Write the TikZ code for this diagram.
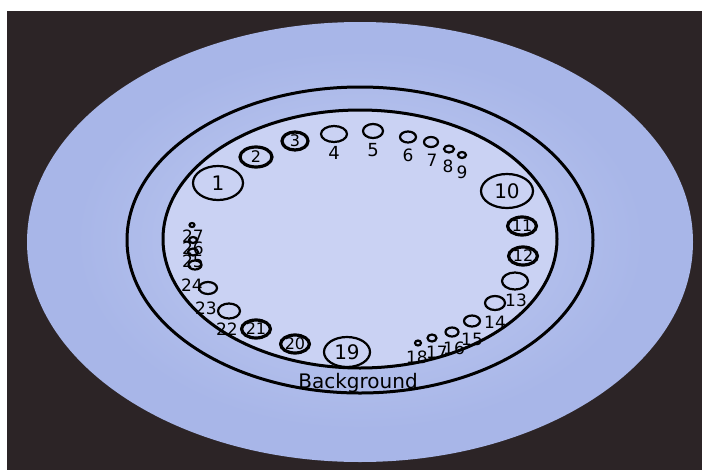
\documentclass[tikz,border=0pt]{standalone}
\usepackage{fontspec}
\setmainfont{DejaVu Sans}
\usetikzlibrary{shapes.geometric}
\definecolor{bgdark}{RGB}{44,36,38}
\definecolor{plate}{RGB}{168,182,232}
\definecolor{platelight}{RGB}{196,206,242}
\definecolor{platecenter}{RGB}{202,210,243}
\begin{document}
\begin{tikzpicture}[x=1pt,y=-1pt,
  well/.style={draw=black, ellipse, line width=2.2pt, inner sep=0pt},
  wellthick/.style={well, line width=3.2pt},
  ring/.style={draw=black, line width=3pt},
  bignum/.style={font=\fontsize{20}{20}\selectfont},
  midnum/.style={font=\fontsize{16}{16}\selectfont},
  lbl/.style={inner sep=0pt, font=\fontsize{17}{17}\selectfont},
  lblbig/.style={inner sep=0pt, font=\fontsize{18}{18}\selectfont}]
\useasboundingbox (0,0) rectangle (702,472);
\fill[white] (0,0) rectangle (702,472);
\fill[bgdark] (7,11) rectangle (702,470);
% plate
\fill[plate] (360,242) ellipse [x radius=333pt, y radius=220pt];
\shade[inner color=platelight, outer color=plate] (360,240) ellipse [x radius=285pt, y radius=190pt];
\fill[platecenter] (360,239) ellipse [x radius=197pt, y radius=129pt];
% rings
\draw[ring] (360,240) ellipse [x radius=233pt, y radius=153pt];
\draw[ring] (360,239) ellipse [x radius=197pt, y radius=129pt];
\node[inner sep=0pt, font=\fontsize{20}{20}\selectfont] (bg) at (358,383) {Background};
% wells with numbers inside
\node[well, minimum width=50pt, minimum height=34pt, bignum] (c1) at (218,183) {1};
\node[wellthick, minimum width=32pt, minimum height=20pt, midnum] (c2) at (256,157) {2};
\node[wellthick, minimum width=26pt, minimum height=18pt, midnum] (c3) at (295,141) {3};
\node[well, minimum width=52pt, minimum height=34pt, bignum] (c10) at (507,191) {10};
\node[wellthick, minimum width=25pt, minimum height=18pt, midnum] (c11) at (522,226) {11};
\node[wellthick, minimum width=25pt, minimum height=18pt, midnum] (c12) at (523,256) {12};
\node[well, minimum width=46pt, minimum height=30pt, bignum] (c19) at (347,352) {19};
\node[wellthick, minimum width=26pt, minimum height=18pt, midnum] (c20) at (295,344) {20};
\node[wellthick, minimum width=26pt, minimum height=18pt, midnum] (c21) at (256,329) {21};
% small wells with labels outside
\node[well, minimum width=26pt, minimum height=16pt] (c4) at (334,134) {};
\node[lblbig] (t4) at (334,153) {4};
\node[well, minimum width=20pt, minimum height=14pt] (c5) at (373,131) {};
\node[lblbig] (t5) at (373,150) {5};
\node[well, minimum width=16pt, minimum height=11pt] (c6) at (408,137) {};
\node[lbl] (t6) at (408,155) {6};
\node[well, minimum width=14pt, minimum height=10pt] (c7) at (431,142) {};
\node[lbl] (t7) at (432,160) {7};
\node[well, minimum width=10pt, minimum height=7pt] (c8) at (449,149) {};
\node[lbl] (t8) at (448,166) {8};
\node[well, minimum width=8pt, minimum height=6pt] (c9) at (462,155) {};
\node[lbl] (t9) at (462,172) {9};
\node[well, minimum width=26pt, minimum height=17pt] (c13) at (515,281) {};
\node[lbl] (t13) at (516,300) {13};
\node[well, minimum width=20pt, minimum height=14pt] (c14) at (495,303) {};
\node[lbl] (t14) at (495,322) {14};
\node[well, minimum width=16pt, minimum height=11pt] (c15) at (472,321) {};
\node[lbl] (t15) at (472,339) {15};
\node[well, minimum width=13pt, minimum height=9pt] (c16) at (452,332) {};
\node[lbl] (t16) at (454,348) {16};
\node[well, minimum width=9pt, minimum height=7pt] (c17) at (432,338) {};
\node[lbl] (t17) at (437,352) {17};
\node[well, minimum width=6pt, minimum height=5pt] (c18) at (418,343) {};
\node[lbl] (t18) at (417,357) {18};
\node[well, minimum width=22pt, minimum height=15pt] (c22) at (229,311) {};
\node[lbl] (t22) at (227,329) {22};
\node[well, minimum width=18pt, minimum height=12pt] (c23) at (208,288) {};
\node[lbl] (t23) at (206,308) {23};
\node[well, minimum width=13pt, minimum height=9pt] (c24) at (195,265) {};
\node[lbl] (t24) at (192,285) {24};
\node[well, minimum width=10pt, minimum height=7pt] (c25) at (193,252) {};
\node[lbl] (t25) at (193,261) {25};
\node[well, minimum width=8pt, minimum height=6pt] (c26) at (193,240) {};
\node[lbl] (t26) at (193,248) {26};
\node[well, minimum width=5pt, minimum height=4pt] (c27) at (192,225) {};
\node[lbl] (t27) at (193,236) {27};
\end{tikzpicture}
\end{document}
